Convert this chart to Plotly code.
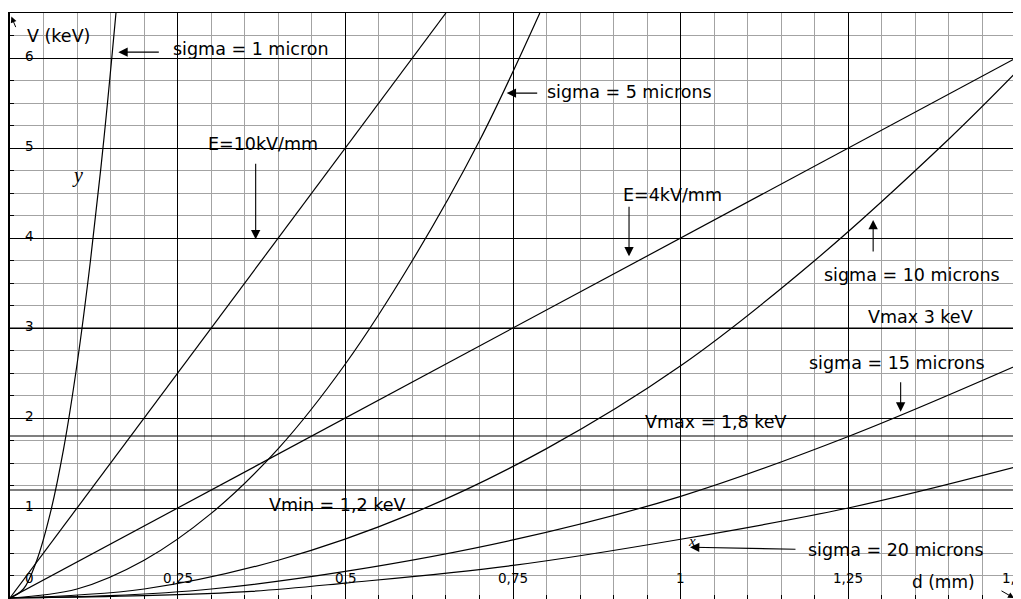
import plotly.graph_objects as go

# sigma curves (d in mm, V in keV)
sigma1_d = [0, 0.02, 0.04, 0.06, 0.08, 0.10, 0.12, 0.14, 0.158]
sigma1_v = [0, 0.10, 0.42, 0.94, 1.66, 2.60, 3.75, 5.10, 6.50]

sigma5_d = [0, 0.10, 0.20, 0.30, 0.40, 0.50, 0.60, 0.70, 0.79]
sigma5_v = [0, 0.10, 0.42, 0.94, 1.66, 2.60, 3.75, 5.08, 6.50]

sigma10_d = [0, 0.20, 0.40, 0.60, 0.80, 1.00, 1.20, 1.40, 1.50]
sigma10_v = [0, 0.10, 0.42, 0.94, 1.66, 2.58, 3.75, 5.10, 5.84]

sigma15_d = [0, 0.15, 0.30, 0.50, 0.75, 1.00, 1.25, 1.50]
sigma15_v = [0, 0.026, 0.10, 0.295, 0.645, 1.13, 1.795, 2.58]

sigma20_d = [0, 0.20, 0.36, 0.50, 0.75, 1.00, 1.25, 1.50]
sigma20_v = [0, 0.026, 0.074, 0.166, 0.362, 0.653, 1.00, 1.457]

# constant field lines
e10_d = [0, 0.65]
e10_v = [0, 6.5]
e4_d = [0, 1.5]
e4_v = [0, 6.0]

# horizontal voltage limits
v_levels = [3.0, 1.8, 1.2]
d_span = [0, 1.5]

x_ticks = [0.25, 0.5, 0.75, 1.0, 1.25, 1.4955]
x_tick_text = ["0,25", "0,5", "0,75", "1", "1,25", "1,5"]
y_ticks = [1, 2, 3, 4, 5, 6]
y_tick_text = ["1", "2", "3", "4", "5", "6"]

FONT = "DejaVu Sans"
LINE = dict(color="black", width=1.2)

fig = go.Figure()

for v in v_levels:
    fig.add_trace(go.Scatter(x=d_span, y=[v, v], mode="lines", line=LINE,
                             showlegend=False, hoverinfo="skip"))

for xs, ys in [(e10_d, e10_v), (e4_d, e4_v)]:
    fig.add_trace(go.Scatter(x=xs, y=ys, mode="lines", line=LINE, showlegend=False))

for xs, ys in [(sigma1_d, sigma1_v), (sigma5_d, sigma5_v), (sigma10_d, sigma10_v),
               (sigma15_d, sigma15_v), (sigma20_d, sigma20_v)]:
    fig.add_trace(go.Scatter(x=xs, y=ys, mode="lines", line=dict(color="black", width=1.2, shape="spline"),
                             showlegend=False))

annotations = []

# tick labels drawn inside the plot, like the original
for x, t in zip(x_ticks, x_tick_text):
    annotations.append(dict(x=x, y=0.22, text=t, showarrow=False, font=dict(size=13.5)))
for y, t in zip(y_ticks, y_tick_text):
    annotations.append(dict(x=0.0298, y=y + 0.02, text=t, showarrow=False, font=dict(size=13.5)))
annotations.append(dict(x=0.0298, y=0.22, text="0", showarrow=False, font=dict(size=13.5)))

# axis titles
annotations.append(dict(x=0.0726, y=6.25, text="V (keV)", showarrow=False, font=dict(size=17.5)))
annotations.append(dict(x=1.392, y=0.18, text="d (mm)", showarrow=False, font=dict(size=17)))
annotations.append(dict(x=0.10, y=4.70, text="<i>y</i>", showarrow=False,
                        font=dict(size=20, family="Liberation Serif")))
annotations.append(dict(x=1.017, y=0.63, text="<i>x</i>", showarrow=False,
                        font=dict(size=15, family="Liberation Serif")))

# curve labels
labels = [
    (0.3589, 6.10, "sigma = 1 micron"),
    (0.3765, 5.04, "E=10kV/mm"),
    (0.9244, 5.62, "sigma = 5 microns"),
    (0.9885, 4.48, "E=4kV/mm"),
    (1.345, 3.59, "sigma = 10 microns"),
    (1.358, 3.12, "Vmax 3 keV"),
    (1.323, 2.61, "sigma = 15 microns"),
    (1.052, 1.96, "Vmax = 1,8 keV"),
    (0.487, 1.03, "Vmin = 1,2 keV"),
    (1.321, 0.535, "sigma = 20 microns"),
]
for x, y, t in labels:
    annotations.append(dict(x=x, y=y, text=t, showarrow=False, font=dict(size=17.5)))

# arrows: tip in data coords, tail offset in pixels
arrows = [
    (0.1615, 6.065, 42, 0),
    (0.3663, 3.985, 0, -77),
    (0.7406, 5.61, 32, 0),
    (0.923, 3.796, 0, -51),
    (1.287, 4.20, 0, 33),
    (1.328, 2.07, 0, -31),
    (1.0139, 0.564, 107, 2),
]
for x, y, ax, ay in arrows:
    annotations.append(dict(x=x, y=y, ax=ax, ay=ay, text="", showarrow=True,
                            arrowhead=2, arrowsize=1.7, arrowwidth=1.1,
                            arrowcolor="black", standoff=0))

# small arrows at the axis ends
annotations.append(dict(x=0.002, y=6.46, ax=5, ay=12, text="", showarrow=True, arrowhead=2,
                        arrowsize=1.2, arrowwidth=1, arrowcolor="black", standoff=0))
annotations.append(dict(x=1.497, y=0.0, ax=-14, ay=-8, text="", showarrow=True, arrowhead=2,
                        arrowsize=1.2, arrowwidth=1, arrowcolor="black", standoff=0))

# page body has an 8px margin, so the figure is sized to fit inside the window
fig.update_layout(
    width=1013,
    height=591,
    margin=dict(l=2, r=5, t=5, b=0),
    paper_bgcolor="white",
    plot_bgcolor="white",
    font=dict(family=FONT, color="black", size=14),
    annotations=annotations,
    xaxis=dict(
        range=[0, 1.5], tick0=0, dtick=0.25, showticklabels=False,
        showgrid=True, gridcolor="black", gridwidth=1, zeroline=False,
        showline=True, linecolor="black", linewidth=1, mirror=True,
        ticks="inside", ticklen=4, tickcolor="black",
        minor=dict(dtick=0.05, showgrid=True, gridcolor="#a3a3a3", gridwidth=1,
                   ticks="inside", ticklen=4, tickcolor="black"),
    ),
    yaxis=dict(
        range=[-0.011, 6.5], tick0=0, dtick=1, showticklabels=False,
        showgrid=True, gridcolor="black", gridwidth=1, zeroline=False,
        showline=True, linecolor="black", linewidth=2, mirror=True,
        ticks="inside", ticklen=4, tickcolor="black",
        minor=dict(dtick=0.25, showgrid=True, gridcolor="#a3a3a3", gridwidth=1,
                   ticks="inside", ticklen=4, tickcolor="black"),
    ),
)

fig.write_html("out.html")
